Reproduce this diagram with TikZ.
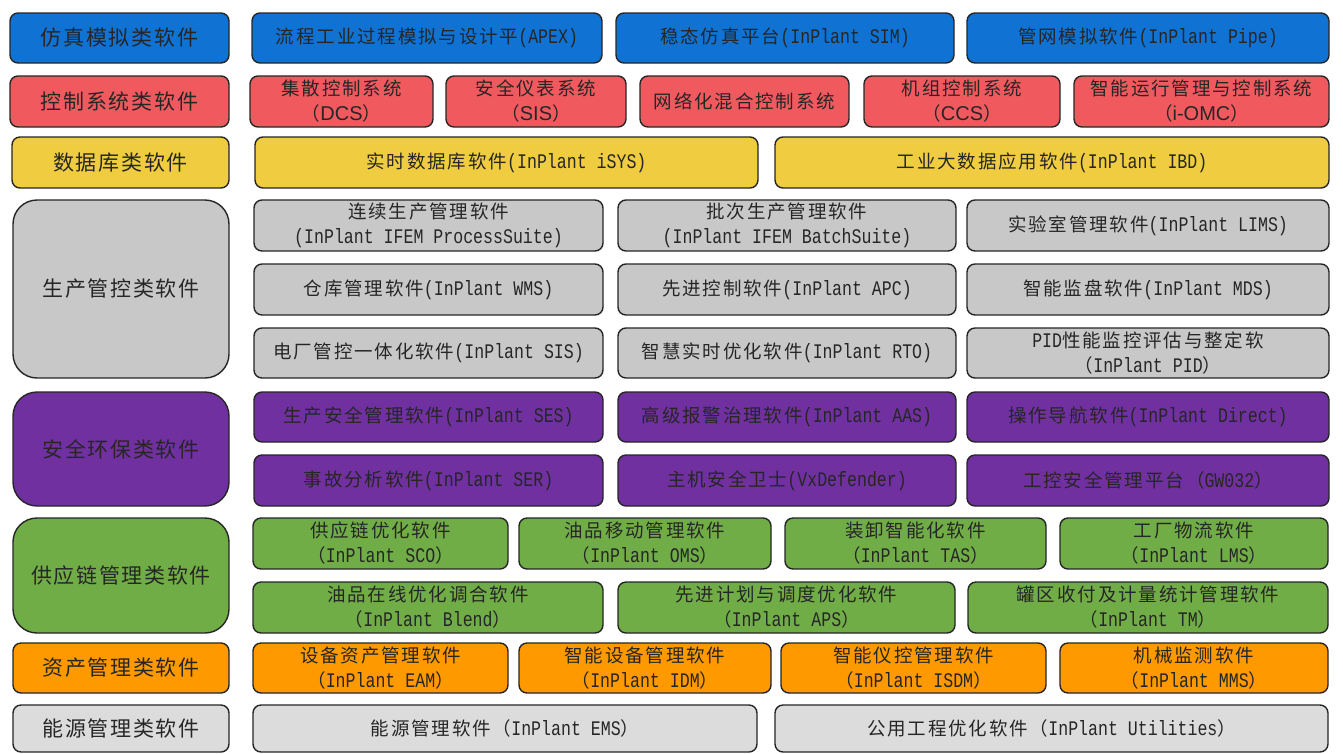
\documentclass[tikz,border=0pt]{standalone}
\usepackage{fontspec}
\setmainfont{Liberation Sans}
\newfontfamily\zhfont[LetterSpace=10]{Noto Sans CJK SC}
\newfontfamily\catzh[LetterSpace=8]{Noto Sans CJK SC}
\newfontfamily\monofont[FakeStretch=0.8,Scale=1.12]{Liberation Mono}
\definecolor{cblue}{RGB}{16,114,210}
\definecolor{cred}{RGB}{240,90,95}
\definecolor{cyellow}{RGB}{240,204,64}
\definecolor{cgray}{RGB}{200,200,200}
\definecolor{cpurple}{RGB}{112,48,160}
\definecolor{cgreen}{RGB}{112,173,71}
\definecolor{corange}{RGB}{255,153,0}
\definecolor{clgray}{RGB}{220,220,220}
\newcommand\Z[1]{{\zhfont #1}}
\newcommand\fw[1]{\Z{（}#1\Z{）}}
\newcommand\ar[1]{{\rmfamily\fontsize{20}{25}\selectfont #1}}
\newcommand\itemfont{\fontsize{18.5}{25}\selectfont\monofont}
\newcommand\catfont{\fontsize{21}{26}\selectfont\catzh}
\newcommand\bx[7]{\node[#2, minimum width={#5pt-#3pt}, minimum height={#6pt-#4pt}] (#1) at ({(#3+#5)/2},{(#4+#6)/2}) {#7};}
\tikzset{
  box/.style={draw=black!85, line width=1.4pt, rounded corners=8pt, inner sep=0pt, outer sep=0pt, align=center, font=\itemfont, text=black!85},
  cat/.style={box, font=\catfont},
  big/.style={rounded corners=24pt}
}
\begin{document}
\begin{tikzpicture}[x=1pt,y=-1pt]
\useasboundingbox (0,0) rectangle (1343,753);
\fill[white] (0,0) rectangle (1343,753);
% row 1
\bx{c1}{cat,fill=cblue}{10}{13}{229}{63}{仿真模拟类软件}
\bx{apex}{box,fill=cblue}{252}{13}{602}{63}{\Z{流程工业过程模拟与设计平}(APEX)}
\bx{sim}{box,fill=cblue}{616}{13}{954}{63}{\Z{稳态仿真平台}(InPlant SIM)}
\bx{pipe}{box,fill=cblue}{967}{13}{1329}{63}{\Z{管网模拟软件}(InPlant Pipe)}
% row 2
\bx{c2}{cat,fill=cred}{10}{76}{229}{127}{控制系统类软件}
\bx{dcs}{box,fill=cred}{250}{76}{433}{127}{\Z{集散控制系统}\\\fw{\ar{DCS}}}
\bx{sis}{box,fill=cred}{446}{76}{626}{127}{\Z{安全仪表系统}\\\fw{\ar{SIS}}}
\bx{net}{box,fill=cred}{640}{76}{849}{127}{\Z{网络化混合控制系统}}
\bx{ccs}{box,fill=cred}{864}{76}{1060}{127}{\Z{机组控制系统}\\\fw{\ar{CCS}}}
\bx{omc}{box,fill=cred}{1074}{76}{1329}{127}{\Z{智能运行管理与控制系统}\\\fw{\ar{i-OMC}}}
% row 3
\bx{c3}{cat,fill=cyellow}{12}{137}{229}{188}{数据库类软件}
\bx{isys}{box,fill=cyellow}{255}{137}{758}{188}{\Z{实时数据库软件}(InPlant iSYS)}
\bx{ibd}{box,fill=cyellow}{775}{137}{1329}{188}{\Z{工业大数据应用软件}(InPlant IBD)}
% production
\bx{c4}{cat,big,fill=cgray}{13}{200}{229}{378}{生产管控类软件}
\bx{p1}{box,fill=cgray}{254}{200}{603}{251}{\Z{连续生产管理软件}\\(InPlant IFEM ProcessSuite)}
\bx{p2}{box,fill=cgray}{618}{200}{956}{251}{\Z{批次生产管理软件}\\(InPlant IFEM BatchSuite)}
\bx{p3}{box,fill=cgray}{967}{200}{1329}{251}{\Z{实验室管理软件}(InPlant LIMS)}
\bx{p4}{box,fill=cgray}{254}{264}{603}{315}{\Z{仓库管理软件}(InPlant WMS)}
\bx{p5}{box,fill=cgray}{618}{264}{956}{315}{\Z{先进控制软件}(InPlant APC)}
\bx{p6}{box,fill=cgray}{967}{264}{1329}{315}{\Z{智能监盘软件}(InPlant MDS)}
\bx{p7}{box,fill=cgray}{254}{328}{603}{378}{\Z{电厂管控一体化软件}(InPlant SIS)}
\bx{p8}{box,fill=cgray}{618}{328}{956}{378}{\Z{智慧实时优化软件}(InPlant RTO)}
\bx{p9}{box,fill=cgray}{967}{328}{1329}{378}{PID\Z{性能监控评估与整定软}\\\fw{InPlant PID}}
% safety
\bx{c5}{cat,big,fill=cpurple}{13}{392}{229}{506}{安全环保类软件}
\bx{s1}{box,fill=cpurple}{254}{392}{603}{442}{\Z{生产安全管理软件}(InPlant SES)}
\bx{s2}{box,fill=cpurple}{618}{392}{956}{442}{\Z{高级报警治理软件}(InPlant AAS)}
\bx{s3}{box,fill=cpurple}{967}{392}{1329}{442}{\Z{操作导航软件}(InPlant Direct)}
\bx{s4}{box,fill=cpurple}{254}{455}{603}{506}{\Z{事故分析软件}(InPlant SER)}
\bx{s5}{box,fill=cpurple}{618}{455}{956}{506}{\Z{主机安全卫士}(VxDefender)}
\bx{s6}{box,fill=cpurple}{967}{455}{1329}{506}{\Z{工控安全管理平台}\fw{GW032}}
% supply chain
\bx{c6}{cat,big,fill=cgreen}{13}{518}{229}{633}{供应链管理类软件}
\bx{g1}{box,fill=cgreen}{253}{518}{508}{569}{\Z{供应链优化软件}\\\fw{InPlant SCO}}
\bx{g2}{box,fill=cgreen}{519}{518}{771}{569}{\Z{油品移动管理软件}\\\fw{InPlant OMS}}
\bx{g3}{box,fill=cgreen}{785}{518}{1046}{569}{\Z{装卸智能化软件}\\\fw{InPlant TAS}}
\bx{g4}{box,fill=cgreen}{1060}{518}{1328}{569}{\Z{工厂物流软件}\\\fw{InPlant LMS}}
\bx{g5}{box,fill=cgreen}{253}{582}{603}{633}{\Z{油品在线优化调合软件}\\\fw{InPlant Blend}}
\bx{g6}{box,fill=cgreen}{618}{582}{955}{633}{\Z{先进计划与调度优化软件}\\\fw{InPlant APS}}
\bx{g7}{box,fill=cgreen}{968}{582}{1328}{633}{\Z{罐区收付及计量统计管理软件}\\\fw{InPlant TM}}
% assets
\bx{c7}{cat,fill=corange}{13}{643}{229}{693}{资产管理类软件}
\bx{a1}{box,fill=corange}{253}{643}{508}{693}{\Z{设备资产管理软件}\\\fw{InPlant EAM}}
\bx{a2}{box,fill=corange}{519}{643}{771}{693}{\Z{智能设备管理软件}\\\fw{InPlant IDM}}
\bx{a3}{box,fill=corange}{781}{643}{1046}{693}{\Z{智能仪控管理软件}\\\fw{InPlant ISDM}}
\bx{a4}{box,fill=corange}{1060}{643}{1328}{693}{\Z{机械监测软件}\\\fw{InPlant MMS}}
% energy
\bx{c8}{cat,fill=clgray}{13}{705}{229}{752}{能源管理类软件}
\bx{e1}{box,fill=clgray}{253}{705}{757}{752}{\Z{能源管理软件}\fw{InPlant EMS}}
\bx{e2}{box,fill=clgray}{775}{705}{1328}{752}{\Z{公用工程优化软件}\fw{InPlant Utilities}}
\end{tikzpicture}
\end{document}
